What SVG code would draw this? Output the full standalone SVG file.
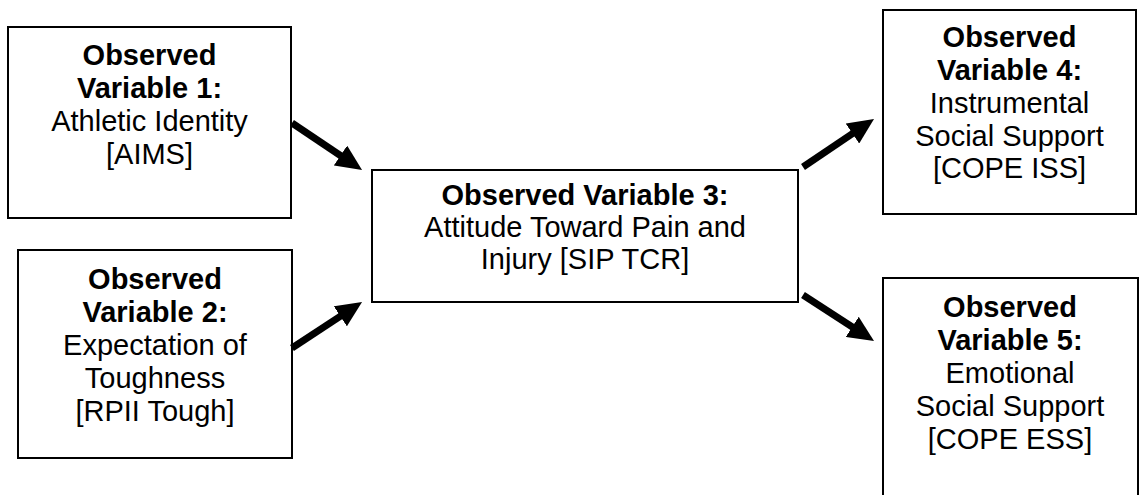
<svg xmlns="http://www.w3.org/2000/svg" width="1141" height="495" viewBox="0 0 1141 495">
  <style>
    .box { fill: #ffffff; stroke: #000000; stroke-width: 2; }
    .t { font-family: "Liberation Sans", Arial, sans-serif; font-size: 29px; fill: #000000; text-anchor: middle; }
    .b { font-weight: bold; }
    .edge { stroke: #000000; stroke-width: 7; fill: none; marker-end: url(#head); }
  </style>
  <defs>
    <marker id="head" markerUnits="userSpaceOnUse" markerWidth="26" markerHeight="24" viewBox="0 0 26 24" refX="8" refY="12" orient="auto">
      <path d="M0,0 L26,12 L0,24 z" fill="#000000"/>
    </marker>
  </defs>
  <rect width="1141" height="495" fill="#ffffff"/>

  <g id="v1">
    <rect class="box" x="8" y="27" width="283" height="191"/>
    <text class="t b" x="149.5" y="65">Observed</text>
    <text class="t b" x="149.5" y="98">Variable 1:</text>
    <text class="t" x="149.5" y="131">Athletic Identity</text>
    <text class="t" x="149.5" y="164">[AIMS]</text>
  </g>

  <g id="v2">
    <rect class="box" x="18" y="250" width="274" height="208"/>
    <text class="t b" x="155" y="289">Observed</text>
    <text class="t b" x="155" y="322">Variable 2:</text>
    <text class="t" x="155" y="355">Expectation of</text>
    <text class="t" x="155" y="388">Toughness</text>
    <text class="t" x="155" y="421">[RPII Tough]</text>
  </g>

  <g id="v3">
    <rect class="box" x="372" y="170" width="426" height="132"/>
    <text class="t b" x="585" y="205">Observed Variable 3:</text>
    <text class="t" x="585" y="237">Attitude Toward Pain and</text>
    <text class="t" x="585" y="269">Injury [SIP TCR]</text>
  </g>

  <g id="v4">
    <rect class="box" x="883" y="10" width="253" height="204"/>
    <text class="t b" x="1009.5" y="47">Observed</text>
    <text class="t b" x="1009.5" y="80">Variable 4:</text>
    <text class="t" x="1009.5" y="113">Instrumental</text>
    <text class="t" x="1009.5" y="146">Social Support</text>
    <text class="t" x="1009.5" y="178">[COPE ISS]</text>
  </g>

  <g id="v5">
    <rect class="box" x="883" y="278" width="255" height="222"/>
    <text class="t b" x="1010" y="317">Observed</text>
    <text class="t b" x="1010" y="350">Variable 5:</text>
    <text class="t" x="1010" y="383">Emotional</text>
    <text class="t" x="1010" y="416">Social Support</text>
    <text class="t" x="1010" y="449">[COPE ESS]</text>
  </g>

  <g id="connectors">
    <line class="edge" x1="292" y1="123" x2="347.1" y2="160"/>
    <line class="edge" x1="292" y1="348" x2="347" y2="311.9"/>
    <line class="edge" x1="803" y1="167" x2="859.1" y2="129.1"/>
    <line class="edge" x1="803" y1="295" x2="858.9" y2="331.2"/>
  </g>
</svg>
